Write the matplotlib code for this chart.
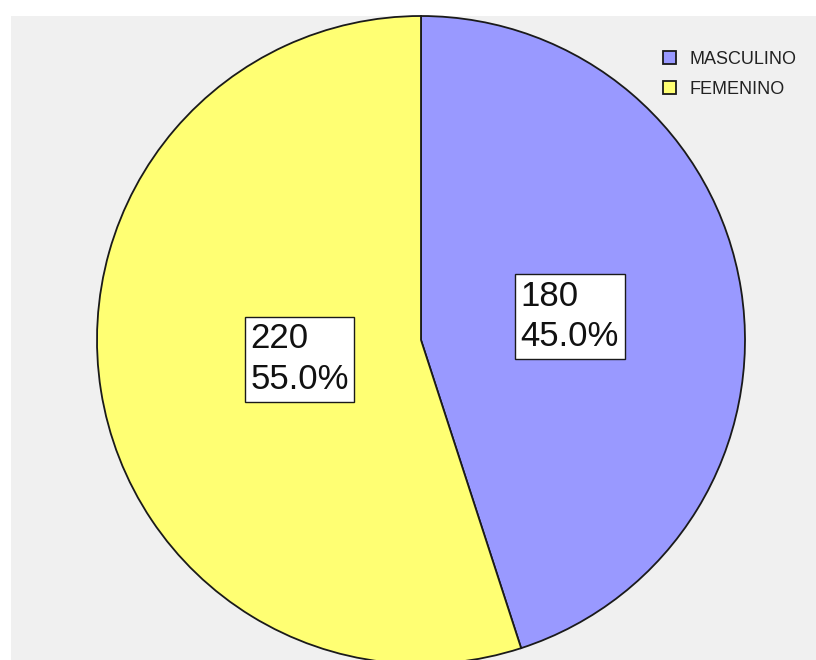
import numpy as np
import matplotlib
matplotlib.use('Agg')
import matplotlib.pyplot as plt

plt.rcParams['font.family'] = ['Liberation Sans', 'DejaVu Sans']

labels = ['MASCULINO', 'FEMENINO']
counts = [180, 220]
colors = ['#9999FF', '#FFFF73']
# how far from the centre each label box sits (fraction of radius)
label_dist = [0.465, 0.38]

W, H = 816, 660
fig = plt.figure(figsize=(W / 100, H / 100), dpi=100, facecolor='white')

# grey chart area
bg = fig.add_axes([11 / W, 0, (W - 11) / W, (H - 16) / H])
bg.set_facecolor('#F0F0F0')
bg.set_xticks([])
bg.set_yticks([])
for s in bg.spines.values():
    s.set_visible(False)

# pie axes, centre at (421, 340) px, radius 324 px
cx, cy, r = 421, 340, 324
ax = fig.add_axes([(cx - r) / W, (H - cy - r) / H, 2 * r / W, 2 * r / H])
ax.set_axis_off()

wedges, _ = ax.pie(counts, colors=colors, startangle=90, counterclock=False,
                   wedgeprops=dict(edgecolor='#1a1a1a', linewidth=1.3))
ax.set_xlim(-1, 1)
ax.set_ylim(-1, 1)

total = sum(counts)
for w, n, d in zip(wedges, counts, label_dist):
    ang = np.deg2rad((w.theta1 + w.theta2) / 2)
    ax.text(d * np.cos(ang), d * np.sin(ang), f'{n}\n{n / total * 100:.1f}%',
            ha='center', va='center', multialignment='left', fontsize=25,
            color='#111111', linespacing=1.3,
            bbox=dict(boxstyle='square,pad=0.16', facecolor='white',
                      edgecolor='#1a1a1a', linewidth=1.0))

leg = fig.legend(wedges, labels, loc='upper left',
                 bbox_to_anchor=(663 / W, 1 - 51 / H), frameon=False,
                 fontsize=13, handlelength=0.7, handleheight=0.7,
                 handletextpad=0.75, labelspacing=0.7,
                 borderpad=0, borderaxespad=0)
for t in leg.get_texts():
    t.set_color('#222222')

fig.savefig('out.png', dpi=100, facecolor='white')
